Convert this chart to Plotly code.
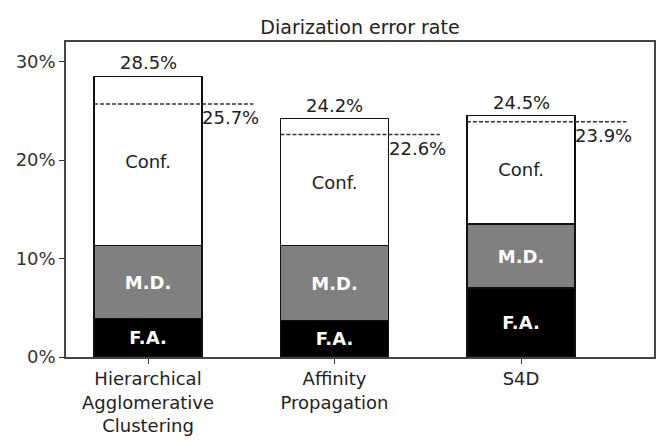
import plotly.graph_objects as go

categories = ["Hierarchical<br>Agglomerative<br>Clustering", "Affinity<br>Propagation", "S4D"]
fa = [3.9, 3.7, 7.0]
md = [7.4, 7.6, 6.5]
conf = [17.2, 12.9, 11.0]
totals = [28.5, 24.2, 24.5]
dashed = [25.7, 22.6, 23.9]
ytick_vals = [0, 10, 20, 30]
ytick_text = ["0%", "10%", "20%", "30%"]

FONT = "DejaVu Sans"
FS = 18
W = 0.58
xs = list(range(len(categories)))

fig = go.Figure()
edge = dict(color="#111", width=1.3)
fig.add_trace(go.Bar(x=xs, y=fa, width=W, marker=dict(color="black", line=edge),
                     text=["F.A."] * 3, textposition="inside", insidetextanchor="middle",
                     textangle=0, textfont=dict(color="white", size=FS, family=FONT, weight="bold"),
                     hoverinfo="skip"))
fig.add_trace(go.Bar(x=xs, y=md, width=W, marker=dict(color="#808080", line=edge),
                     text=["M.D."] * 3, textposition="inside", insidetextanchor="middle",
                     textangle=0, textfont=dict(color="white", size=FS, family=FONT, weight="bold"),
                     hoverinfo="skip"))
fig.add_trace(go.Bar(x=xs, y=conf, width=W, marker=dict(color="white", line=edge),
                     text=["Conf."] * 3, textposition="inside", insidetextanchor="middle",
                     textangle=0, textfont=dict(color="#222", size=FS, family=FONT),
                     hoverinfo="skip"))

for i, (t, d) in enumerate(zip(totals, dashed)):
    fig.add_annotation(x=i, y=t, text=f"{t:.1f}%", showarrow=False, xanchor="center",
                       yanchor="bottom", yshift=1, font=dict(size=FS, family=FONT, color="#222"))
    fig.add_shape(type="line", x0=i - W / 2, x1=i - W / 2 + 0.855, y0=d, y1=d,
                  line=dict(color="#333", width=1.4, dash="4px,2px"))
    fig.add_annotation(x=i + W / 2, y=d, text=f"{d:.1f}%", showarrow=False, xanchor="left",
                       yanchor="top", xshift=-2, yshift=-1,
                       font=dict(size=FS, family=FONT, color="#222"))

fig.update_layout(
    barmode="stack",
    width=665, height=442,
    margin=dict(l=66, r=11, t=42, b=85, autoexpand=False),
    paper_bgcolor="white", plot_bgcolor="white",
    showlegend=False,
    font=dict(family=FONT, size=FS, color="#222"),
    title=dict(text="Diarization error rate", x=0.5, xanchor="center", xref="paper",
               y=1, yref="paper", yanchor="bottom", pad=dict(b=8),
               font=dict(size=19, family=FONT, color="#222")),
    uniformtext=dict(minsize=FS, mode="show"),
)
fig.update_xaxes(range=[-0.4397, 2.713], tickvals=xs, ticktext=categories,
                 automargin=False,
                 showgrid=False, zeroline=False, showline=True, mirror=True,
                 linecolor="#444", linewidth=1.5, ticks="outside", ticklen=5,
                 tickcolor="#333", tickfont=dict(size=FS, color="#222"))
fig.update_yaxes(range=[0, 32], tickvals=ytick_vals, ticktext=ytick_text,
                 automargin=False,
                 showgrid=False, zeroline=False, showline=True, mirror=True,
                 linecolor="#444", linewidth=1.5, ticks="outside", ticklen=5,
                 tickcolor="#333", tickfont=dict(size=FS, color="#333"))

fig.write_html("out.html")
